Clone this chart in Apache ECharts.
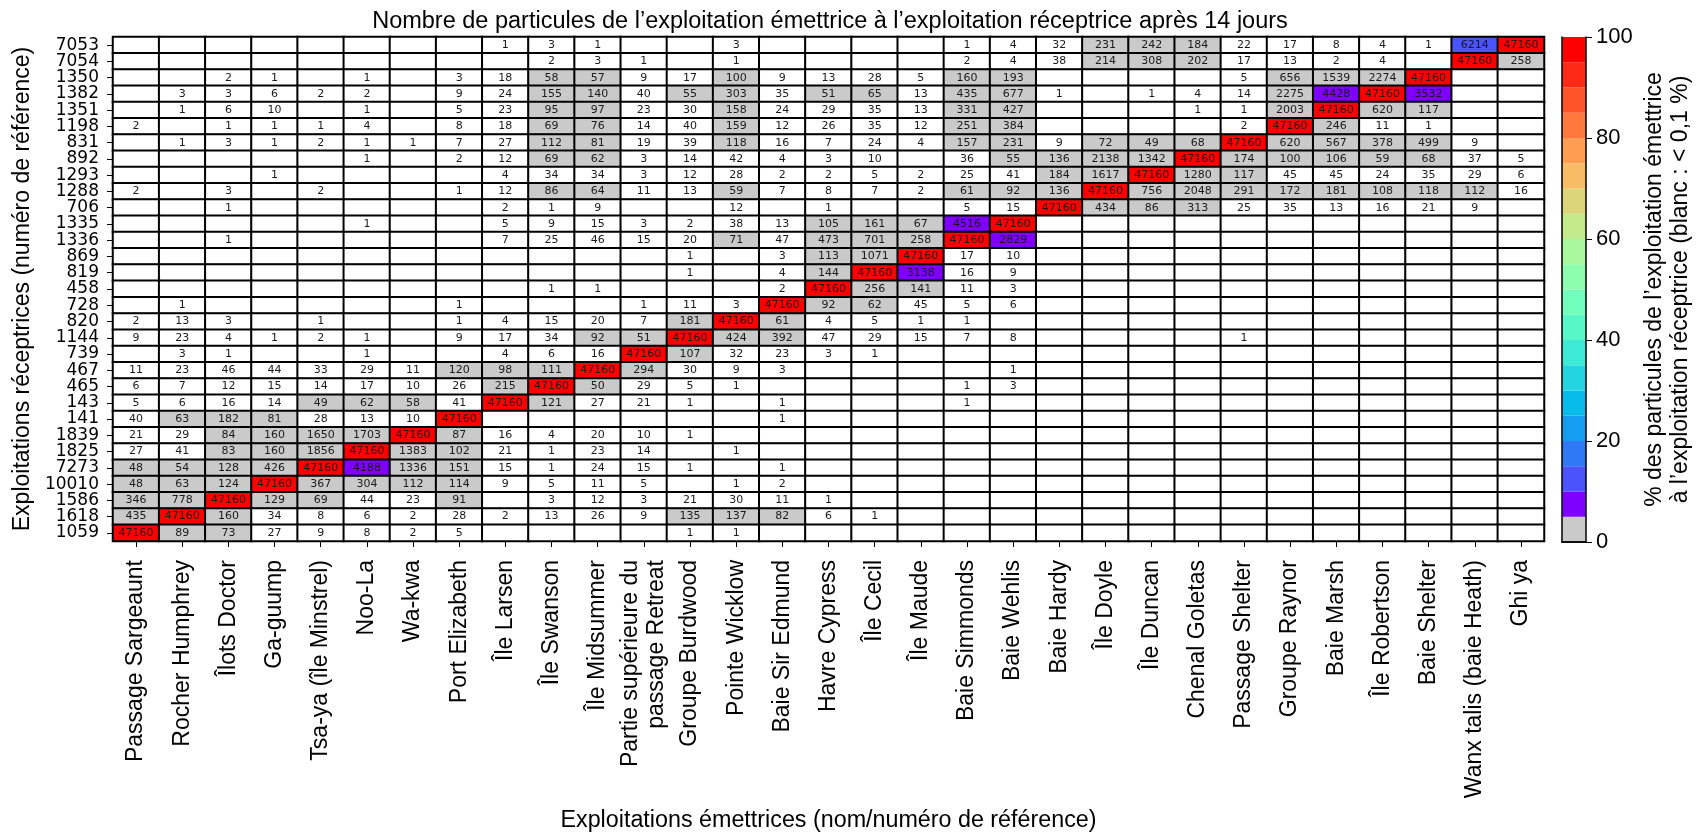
<!DOCTYPE html>
<html><head><meta charset="utf-8">
<script src="https://cdn.jsdelivr.net/npm/echarts@6/dist/echarts.min.js"></script>
<style>html,body{margin:0;padding:0;background:#fff}#c{width:1699px;height:837px}</style>
</head><body><div id="c"></div>
<script>
const _ = null;
const emitters = ['Passage Sargeaunt','Rocher Humphrey','Îlots Doctor','Ga-guump','Tsa-ya (île Minstrel)','Noo-La','Wa-kwa','Port Elizabeth','Île Larsen','Île Swanson','Île Midsummer','Partie supérieure du\npassage Retreat','Groupe Burdwood','Pointe Wicklow','Baie Sir Edmund','Havre Cypress','Île Cecil','Île Maude','Baie Simmonds','Baie Wehlis','Baie Hardy','Île Doyle','Île Duncan','Chenal Goletas','Passage Shelter','Groupe Raynor','Baie Marsh','Île Robertson','Baie Shelter','Wanx talis (baie Heath)','Ghi ya'];
const receivers = ['7053','7054','1350','1382','1351','1198','831','892','1293','1288','706','1335','1336','869','819','458','728','820','1144','739','467','465','143','141','1839','1825','7273','10010','1586','1618','1059'];

// counts per receiver row, one entry per emitter column (null = blank)
const row7053  = [_,_,_,_,_,_,_,_,1,3,1,_,_,3,_,_,_,_,1,4,32,231,242,184,22,17,8,4,1,6214,47160];
const row7054  = [_,_,_,_,_,_,_,_,_,2,3,1,_,1,_,_,_,_,2,4,38,214,308,202,17,13,2,4,_,47160,258];
const row1350  = [_,_,2,1,_,1,_,3,18,58,57,9,17,100,9,13,28,5,160,193,_,_,_,_,5,656,1539,2274,47160,_,_];
const row1382  = [_,3,3,6,2,2,_,9,24,155,140,40,55,303,35,51,65,13,435,677,1,_,1,4,14,2275,4428,47160,3532,_,_];
const row1351  = [_,1,6,10,_,1,_,5,23,95,97,23,30,158,24,29,35,13,331,427,_,_,_,1,1,2003,47160,620,117,_,_];
const row1198  = [2,_,1,1,1,4,_,8,18,69,76,14,40,159,12,26,35,12,251,384,_,_,_,_,2,47160,246,11,1,_,_];
const row831   = [_,1,3,1,2,1,1,7,27,112,81,19,39,118,16,7,24,4,157,231,9,72,49,68,47160,620,567,378,499,9,_];
const row892   = [_,_,_,_,_,1,_,2,12,69,62,3,14,42,4,3,10,_,36,55,136,2138,1342,47160,174,100,106,59,68,37,5];
const row1293  = [_,_,_,1,_,_,_,_,4,34,34,3,12,28,2,2,5,2,25,41,184,1617,47160,1280,117,45,45,24,35,29,6];
const row1288  = [2,_,3,_,2,_,_,1,12,86,64,11,13,59,7,8,7,2,61,92,136,47160,756,2048,291,172,181,108,118,112,16];
const row706   = [_,_,1,_,_,_,_,_,2,1,9,_,_,12,_,1,_,_,5,15,47160,434,86,313,25,35,13,16,21,9,_];
const row1335  = [_,_,_,_,_,1,_,_,5,9,15,3,2,38,13,105,161,67,4516,47160,_,_,_,_,_,_,_,_,_,_,_];
const row1336  = [_,_,1,_,_,_,_,_,7,25,46,15,20,71,47,473,701,258,47160,2829,_,_,_,_,_,_,_,_,_,_,_];
const row869   = [_,_,_,_,_,_,_,_,_,_,_,_,1,_,3,113,1071,47160,17,10,_,_,_,_,_,_,_,_,_,_,_];
const row819   = [_,_,_,_,_,_,_,_,_,_,_,_,1,_,4,144,47160,3138,16,9,_,_,_,_,_,_,_,_,_,_,_];
const row458   = [_,_,_,_,_,_,_,_,_,1,1,_,_,_,2,47160,256,141,11,3,_,_,_,_,_,_,_,_,_,_,_];
const row728   = [_,1,_,_,_,_,_,1,_,_,_,1,11,3,47160,92,62,45,5,6,_,_,_,_,_,_,_,_,_,_,_];
const row820   = [2,13,3,_,1,_,_,1,4,15,20,7,181,47160,61,4,5,1,1,_,_,_,_,_,_,_,_,_,_,_,_];
const row1144  = [9,23,4,1,2,1,_,9,17,34,92,51,47160,424,392,47,29,15,7,8,_,_,_,_,1,_,_,_,_,_,_];
const row739   = [_,3,1,_,_,1,_,_,4,6,16,47160,107,32,23,3,1,_,_,_,_,_,_,_,_,_,_,_,_,_,_];
const row467   = [11,23,46,44,33,29,11,120,98,111,47160,294,30,9,3,_,_,_,_,1,_,_,_,_,_,_,_,_,_,_,_];
const row465   = [6,7,12,15,14,17,10,26,215,47160,50,29,5,1,_,_,_,_,1,3,_,_,_,_,_,_,_,_,_,_,_];
const row143   = [5,6,16,14,49,62,58,41,47160,121,27,21,1,_,1,_,_,_,1,_,_,_,_,_,_,_,_,_,_,_,_];
const row141   = [40,63,182,81,28,13,10,47160,_,_,_,_,_,_,1,_,_,_,_,_,_,_,_,_,_,_,_,_,_,_,_];
const row1839  = [21,29,84,160,1650,1703,47160,87,16,4,20,10,1,_,_,_,_,_,_,_,_,_,_,_,_,_,_,_,_,_,_];
const row1825  = [27,41,83,160,1856,47160,1383,102,21,1,23,14,_,1,_,_,_,_,_,_,_,_,_,_,_,_,_,_,_,_,_];
const row7273  = [48,54,128,426,47160,4188,1336,151,15,1,24,15,1,_,1,_,_,_,_,_,_,_,_,_,_,_,_,_,_,_,_];
const row10010 = [48,63,124,47160,367,304,112,114,9,5,11,5,_,1,2,_,_,_,_,_,_,_,_,_,_,_,_,_,_,_,_];
const row1586  = [346,778,47160,129,69,44,23,91,_,3,12,3,21,30,11,1,_,_,_,_,_,_,_,_,_,_,_,_,_,_,_];
const row1618  = [435,47160,160,34,8,6,2,28,2,13,26,9,135,137,82,6,1,_,_,_,_,_,_,_,_,_,_,_,_,_,_];
const row1059  = [47160,89,73,27,9,8,2,5,_,_,_,_,1,1,_,_,_,_,_,_,_,_,_,_,_,_,_,_,_,_,_];

const countRows = [row7053,row7054,row1350,row1382,row1351,row1198,row831,row892,row1293,row1288,row706,row1335,row1336,row869,row819,row458,row728,row820,row1144,row739,row467,row465,row143,row141,row1839,row1825,row7273,row10010,row1586,row1618,row1059];

const particlesPerEmitter = 47160;
const whiteBelowPct = 0.1;
const bandEdges = [0,5,10,15,20,25,30,35,40,45,50,55,60,65,70,75,80,85,90,95,100];
const bandColors = ['#cacaca','#8000ff','#4a53fc','#2f79f7','#149df1','#07bcea','#22d5e0','#3cead5','#57f7c9','#72febc','#8dfead','#a8f79d','#c3ea8b','#ddd579','#f8bc66','#ff9d53','#ff793f','#ff532a','#ff2a15','#ff0000'];
const colorbarTickStep = 20;

const heatData = [];
countRows.forEach((row, yi) => row.forEach((v, xi) => {
  const c = v == null ? 0 : v;
  heatData.push([xi, yi, c, c / particlesPerEmitter * 100]);
}));

const pieces = [{lt: whiteBelowPct, color: '#ffffff'}];
bandColors.forEach((col, i) => {
  const p = {gte: i === 0 ? whiteBelowPct : bandEdges[i], color: col};
  if (i === bandColors.length - 1) p.lte = bandEdges[i + 1]; else p.lt = bandEdges[i + 1];
  pieces.push(p);
});

const SANS = 'Liberation Sans';
const DV = 'DejaVu Sans';

const series = [{
  type: 'heatmap', xAxisIndex: 0, yAxisIndex: 0, data: heatData,
  encode: {x: 0, y: 1, value: 2},
  itemStyle: {borderColor: '#000', borderWidth: 2},
  label: {show: true, fontFamily: DV, fontSize: 11, color: '#1a1a1a',
    formatter: p => p.data[2] === 0 ? '' : String(p.data[2])},
  emphasis: {disabled: true}, silent: true
}];
bandColors.forEach((col, i) => series.push({
  type: 'bar', xAxisIndex: 1, yAxisIndex: 1, stack: 'cb',
  data: [bandEdges[i + 1] - bandEdges[i]], barWidth: '100%',
  itemStyle: {color: col}, silent: true
}));

const chart = echarts.init(document.getElementById('c'), null, {renderer: 'canvas'});
chart.setOption({
  animation: false,
  backgroundColor: '#fff',
  title: {text: 'Nombre de particules de l’exploitation émettrice à l’exploitation réceptrice après 14 jours',
    left: 825, top: 5, textAlign: 'center',
    textStyle: {fontFamily: SANS, fontSize: 23.5, fontWeight: 'normal', color: '#000'}},
  grid: [
    {left: 113, top: 37, right: 155, bottom: 295, containLabel: false},
    {left: 1562, top: 37, width: 24, bottom: 295, containLabel: false}
  ],
  visualMap: {type: 'piecewise', show: false, dimension: 3, seriesIndex: 0, pieces: pieces},
  xAxis: [
    {gridIndex: 0, type: 'category', data: emitters, position: 'bottom',
      axisLine: {show: true, lineStyle: {color: '#000', width: 1}},
      axisTick: {show: true, alignWithLabel: true, length: 6, lineStyle: {color: '#000'}},
      axisLabel: {interval: 0, rotate: 90, margin: 19, fontFamily: SANS, fontSize: 23, color: '#000', lineHeight: 26},
      splitLine: {show: false},
      name: 'Exploitations émettrices (nom/numéro de référence)', nameLocation: 'middle', nameGap: 268,
      nameTextStyle: {fontFamily: SANS, fontSize: 23.3, color: '#000'}},
    {gridIndex: 1, type: 'category', data: ['cb'], position: 'bottom', z: 5,
      axisLine: {show: true, lineStyle: {color: '#000', width: 1.5}}, axisTick: {show: false}, axisLabel: {show: false}},
    {gridIndex: 1, type: 'category', data: ['cb'], position: 'top', z: 5,
      axisLine: {show: true, lineStyle: {color: '#000', width: 1.5}}, axisTick: {show: false}, axisLabel: {show: false}}
  ],
  yAxis: [
    {gridIndex: 0, type: 'category', data: receivers, inverse: true,
      axisLine: {show: true, lineStyle: {color: '#000'}},
      axisTick: {show: true, alignWithLabel: true, length: 6, lineStyle: {color: '#000'}},
      axisLabel: {interval: 0, margin: 14, fontFamily: DV, fontSize: 17, color: '#000'},
      splitLine: {show: false},
      name: 'Exploitations réceptrices (numéro de référence)', nameLocation: 'middle', nameGap: 74, nameRotate: 90,
      nameTextStyle: {fontFamily: SANS, fontSize: 23, color: '#000'}},
    {gridIndex: 1, type: 'value', min: 0, max: 100, interval: colorbarTickStep, position: 'right', z: 5,
      axisLine: {show: true, lineStyle: {color: '#000', width: 1.5}},
      axisTick: {show: true, length: 6, lineStyle: {color: '#000'}},
      axisLabel: {margin: 10, fontFamily: SANS, fontSize: 22, color: '#000'},
      splitLine: {show: false},
      name: '% des particules de l’exploitation émettrice\nà l’exploitation réceptrice (blanc : < 0,1 %)',
      nameLocation: 'middle', nameGap: 56, nameRotate: 90,
      nameTextStyle: {fontFamily: SANS, fontSize: 23, color: '#000', lineHeight: 26}},
    {gridIndex: 1, type: 'value', min: 0, max: 100, position: 'left', z: 5,
      axisLine: {show: true, lineStyle: {color: '#000', width: 1.5}}, axisTick: {show: false}, axisLabel: {show: false}, splitLine: {show: false}}
  ],
  series: series
});
</script></body></html>
